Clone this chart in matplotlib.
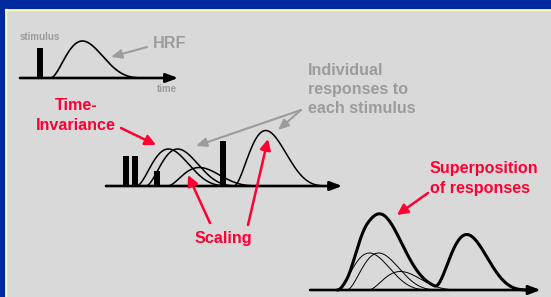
import numpy as np
import matplotlib
matplotlib.use("Agg")
import matplotlib.pyplot as plt
from matplotlib.patches import Rectangle

plt.rcParams['font.family'] = ['Liberation Sans', 'DejaVu Sans']

# ---------------- data ----------------
# single stimulus example (panel 1)
single_onset = [3.2]          # s
single_amp = [1.0]
# train of stimuli (panels 2 and 3)
onsets = [3.2, 4.7, 8.2, 18.9]   # s
amps = [1.0, 1.0, 0.5, 1.5]
# HRF shape parameters (beta-shaped bump)
hrf_delay = 1.7     # s, stimulus to response onset
hrf_length = 16.0   # s, response duration
hrf_a = 2.0
hrf_b = 4.2
bar_ratio = 0.81    # bar height relative to response amplitude

labels = {
    "stimulus": "stimulus", "time": "time", "hrf": "HRF",
    "indiv": ["Individual", "responses to", "each stimulus"],
    "ti": ["Time-", "Invariance"], "scaling": "Scaling",
    "sup": ["Superposition", "of responses"],
}

# ---------------- layout ----------------
W, H = 551, 297
PX_S = 6.2      # px per second
PX_U = 37.0     # px per amplitude unit
RED = '#FF0033'
GRAY = '#9C9C9C'

fig = plt.figure(figsize=(W / 100, H / 100), dpi=100)
fig.patch.set_facecolor('#0029A0')

bg = fig.add_axes([0, 0, 1, 1])
bg.set_xlim(0, W); bg.set_ylim(H, 0); bg.axis('off')
bg.add_patch(Rectangle((5, 9), W, H, facecolor='#D9D9D9', edgecolor='none'))
bg.plot([5.5, 5.5], [9, H], color='#FFFFB0', lw=1.0)
bg.plot([5, W], [9.5, 9.5], color='#FFFFB0', lw=1.0)


def hrf(t, onset, amp):
    x = np.clip((t - onset - hrf_delay) / hrf_length, 0, 1)
    m = hrf_a / (hrf_a + hrf_b)
    return amp * (x / m) ** hrf_a * ((1 - x) / (1 - m)) ** hrf_b


def panel(x0, yb, length, height=2.3):
    ax = fig.add_axes([x0 / W, (H - yb) / H, length * PX_S / W, height * PX_U / H])
    ax.set_xlim(0, length); ax.set_ylim(0, height)
    ax.axis('off')
    ax.patch.set_alpha(0)
    return ax


def baseline(ax, t_start, t_end):
    ax.annotate('', xy=(t_end, 0), xytext=(t_start, 0),
                arrowprops=dict(arrowstyle='-|>,head_length=0.8,head_width=0.3',
                                lw=1.9, color='black', shrinkA=0, shrinkB=0,
                                mutation_scale=9),
                annotation_clip=False)


def curve_t(o):
    return np.linspace(o + hrf_delay, o + hrf_delay + hrf_length, 300)


# panel 1
ax1 = panel(20, 78, 25.5)
ax1.bar(single_onset, [a * bar_ratio for a in single_amp], width=1.0, color='black')
for o, a in zip(single_onset, single_amp):
    tt = curve_t(o)
    ax1.plot(tt, hrf(tt, o, a), color='black', lw=1.2, clip_on=False)
baseline(ax1, 0, 25.5)

# panel 2
ax2 = panel(106, 186, 38.1)
ax2.bar(onsets, [a * bar_ratio for a in amps], width=1.0, color='black')
for o, a in zip(onsets, amps):
    tt = curve_t(o)
    ax2.plot(tt, hrf(tt, o, a), color='black', lw=1.1, clip_on=False)
baseline(ax2, 0, 38.1)

# panel 3
ax3 = panel(307, 290, 37.7)
t = np.linspace(onsets[0] + hrf_delay, onsets[-1] + hrf_delay + hrf_length, 900)
total = np.zeros_like(t)
for o, a in zip(onsets, amps):
    total += hrf(t, o, a)
    tt = curve_t(o)
    if o != onsets[-1]:
        ax3.plot(tt, hrf(tt, o, a), color='black', lw=0.7, clip_on=False)
ax3.plot(t, total, color='black', lw=2.2, clip_on=False, solid_capstyle='round')
baseline(ax3, 0.5, 37.7)

# ---------------- annotations ----------------
ov = fig.add_axes([0, 0, 1, 1])
ov.set_xlim(0, W); ov.set_ylim(H, 0); ov.axis('off'); ov.patch.set_alpha(0)

fs = 11.6
ov.text(20, 40, labels["stimulus"], color=GRAY, fontsize=7, fontweight='bold', va='baseline')
ov.text(157, 91.5, labels["time"], color=GRAY, fontsize=7, fontweight='bold', va='baseline')
ov.text(153, 48.3, labels["hrf"], color=GRAY, fontsize=fs, fontweight='bold', va='baseline')
for i, s in enumerate(labels["indiv"]):
    ov.text(308, 74.7 + i * 19.3, s, color=GRAY, fontsize=fs, fontweight='bold', va='baseline')
for i, s in enumerate(labels["ti"]):
    ov.text(76, 110.3 + i * 19.3, s, color=RED, fontsize=fs, fontweight='bold',
            va='baseline', ha='center')
ov.text(223, 243.3, labels["scaling"], color=RED, fontsize=fs, fontweight='bold',
        va='baseline', ha='center')
for i, s in enumerate(labels["sup"]):
    ov.text(430, 173.3 + i * 19.3, s, color=RED, fontsize=fs, fontweight='bold', va='baseline')


def arrow(p0, p1, color, lw=1.8, hw=0.35):
    ov.annotate('', xy=p1, xytext=p0,
                arrowprops=dict(arrowstyle=f'-|>,head_length=0.7,head_width={hw}',
                                lw=lw, color=color, shrinkA=0, shrinkB=0,
                                mutation_scale=9))


arrow((147, 47), (111, 57), GRAY, 1.5, 0.3)
arrow((301, 110), (196, 146), GRAY, 1.5, 0.3)
arrow((301, 110), (278, 130), GRAY, 1.5, 0.3)
arrow((121, 128), (156, 145), RED)
arrow((210, 223), (188, 175), RED)
arrow((248, 225), (268, 139), RED)
arrow((428, 193), (397, 215), RED)

fig.savefig('out.png', dpi=100, facecolor=fig.get_facecolor())
